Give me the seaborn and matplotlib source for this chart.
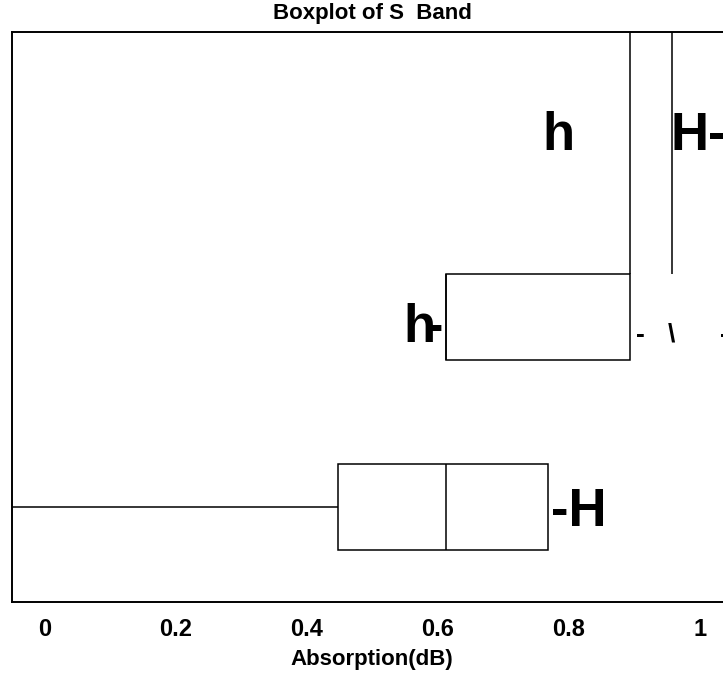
import numpy as np
import pandas as pd
import matplotlib
matplotlib.use("Agg")
import matplotlib.pyplot as plt
from matplotlib import font_manager as fm
import seaborn as sns

# ---- data ----
groups = ["S1", "S2", "S3"]
s2_values = [0.612, 0.612, 0.612, 0.893, 0.893]
s3_values = [-0.2, 0.447, 0.612, 0.768, 0.768]
line_x = [0.893, 0.957]
tick_vals = [0, 0.2, 0.4, 0.6, 0.8, 1.0]
tick_labels = ["0", "0.2", "0.4", "0.6", "0.8", "1"]
title = "Boxplot of S  Band"
xlabel = "Absorption(dB)"

df = pd.DataFrame({
    "group": ["S2"] * len(s2_values) + ["S3"] * len(s3_values),
    "value": s2_values + s3_values,
})

sns.set_style("white")
avail = {f.name for f in fm.fontManager.ttflist}
main_font = "Liberation Sans" if "Liberation Sans" in avail else "DejaVu Sans"
narrow_font = "Liberation Sans Narrow" if "Liberation Sans Narrow" in avail else main_font
plt.rcParams["font.family"] = [main_font, "DejaVu Sans"]
plt.rcParams["text.color"] = "black"
plt.rcParams["axes.labelcolor"] = "black"
plt.rcParams["xtick.color"] = "black"
plt.rcParams["xtick.labelcolor"] = "black"

fig = plt.figure(figsize=(7.23, 6.75), dpi=100)
ax = fig.add_axes([12 / 723, 73 / 675, 720.5 / 723, 570 / 675])

sns.boxplot(data=df, x="value", y="group", order=groups, orient="h",
            color="white", linecolor="black", linewidth=1.1, width=0.45,
            whis=np.inf, showcaps=False, fliersize=0, ax=ax)

ax.vlines(line_x, ymin=-0.5, ymax=0.775, color="black", linewidth=1.1)

ax.set_xlim(-0.05, 1.05)
ax.set_ylim(2.5, -0.5)
ax.set_yticks([])
ax.set_ylabel("")
ax.set_xticks(tick_vals, labels=tick_labels)
ax.tick_params(axis="x", length=0, pad=11.5, labelsize=17, labelcolor="black")
for lab in ax.get_xticklabels():
    lab.set_fontweight("bold")
ax.set_xlabel(xlabel, fontsize=16, fontweight="bold", labelpad=5.5, color="black")
ax.set_title(title, fontsize=16, fontweight="bold", pad=9.4, color="black")

for sp in ax.spines.values():
    sp.set_color("black")
    sp.set_linewidth(1.4)

# ---- stray glyphs (rendered symbol markers) ----
big = dict(fontsize=38, fontweight="bold", family=[narrow_font, "DejaVu Sans"],
           va="baseline", color="black", clip_on=False)
small = dict(fontsize=19, fontweight="bold", family=[narrow_font, "DejaVu Sans"],
             va="baseline", color="black", clip_on=False)
ax.text(0.784, 0.121, "h", ha="center", **big)
ax.text(0.955, 0.121, "H-", ha="left", **big)
ax.text(0.5725, 1.129, "h", ha="center", **big)
ax.text(0.596, 1.129, "-", ha="center", **big)
ax.text(0.7725, 2.10, "-H", ha="left", **big)
ax.text(0.910, 1.129, "-", ha="center", **small)
ax.text(0.956, 1.129, "\\", ha="center", **small)
ax.text(1.037, 1.129, "-", ha="center", **small)

fig.savefig("out.png", dpi=100)
